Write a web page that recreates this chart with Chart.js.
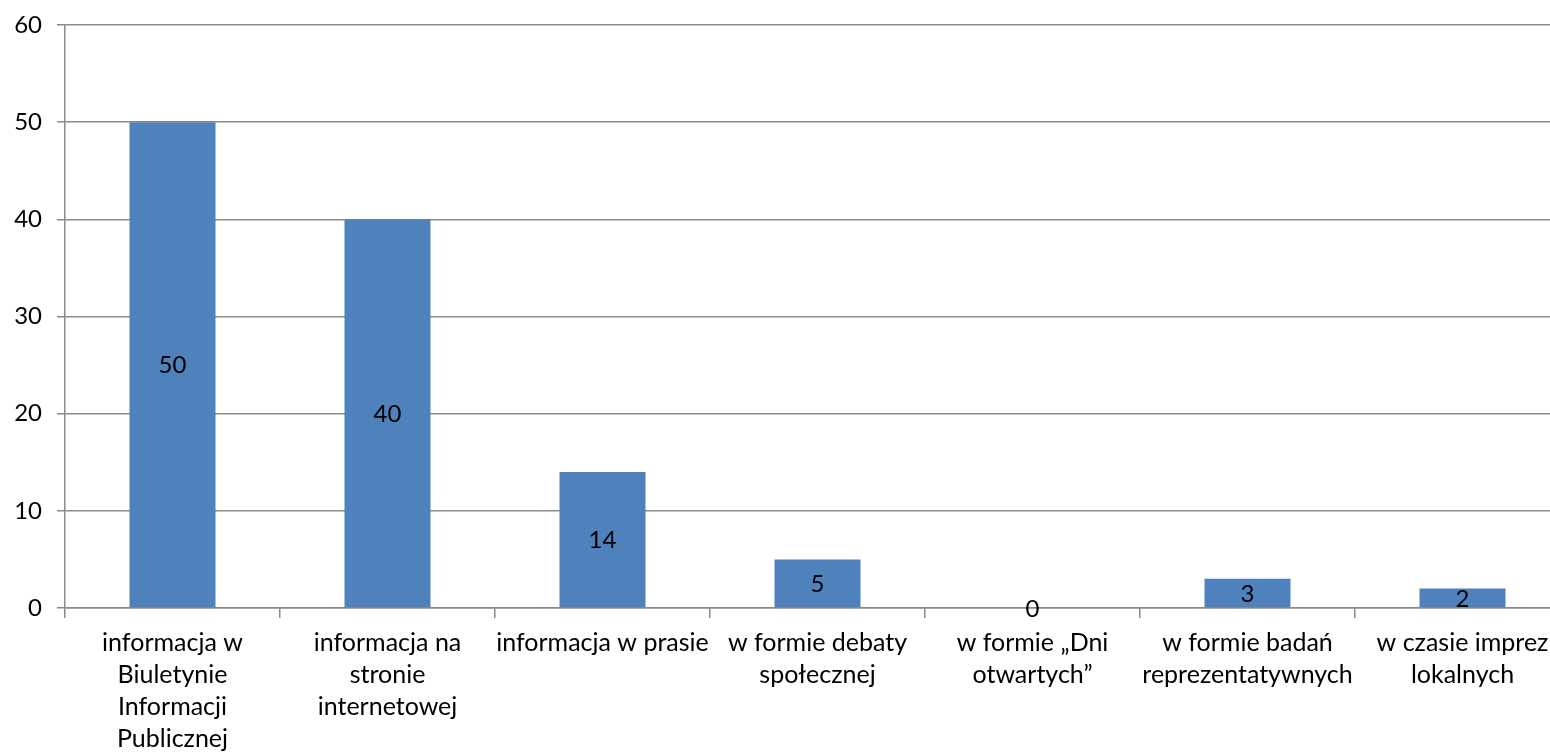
<!DOCTYPE html>
<html>
<head>
<meta charset="utf-8">
<script src="https://cdn.jsdelivr.net/npm/chart.js@4/dist/chart.umd.min.js"></script>
<style>
  html, body { margin: 0; padding: 0; background: #ffffff; overflow: hidden; }
  #wrap { width: 1572px; height: 752px; }
</style>
</head>
<body>
<div id="wrap"><canvas id="c" width="1572" height="752"></canvas></div>
<script>
const categories = [
  ["informacja w", "Biuletynie", "Informacji", "Publicznej"],
  ["informacja na", "stronie", "internetowej"],
  ["informacja w prasie"],
  ["w formie debaty", "społecznej"],
  ["w formie \u201eDni", "otwartych\u201d"],
  ["w formie badań", "reprezentatywnych"],
  ["w czasie imprez", "lokalnych"]
];
const values = [50, 40, 14, 5, 0, 3, 2];
const yTicks = [0, 10, 20, 30, 40, 50, 60];

const FONT = "Lato, 'Open Sans', sans-serif";
const GRID = "#8a8a8a";

const valueLabels = {
  id: "valueLabels",
  afterDatasetsDraw(chart) {
    const ctx = chart.ctx;
    const meta = chart.getDatasetMeta(0);
    ctx.save();
    ctx.font = "24px " + FONT;
    ctx.fillStyle = "#000000";
    ctx.textAlign = "center";
    ctx.textBaseline = "middle";
    meta.data.forEach((bar, i) => {
      const v = chart.data.datasets[0].data[i];
      const yMid = (bar.y + bar.base) / 2;
      ctx.fillText(String(v), bar.x, yMid + 1);
    });
    ctx.restore();
  }
};

new Chart(document.getElementById("c"), {
  type: "bar",
  data: {
    labels: categories,
    datasets: [{
      data: values,
      backgroundColor: "#4F81BD",
      borderWidth: 0,
      categoryPercentage: 1.0,
      barPercentage: 0.4
    }]
  },
  options: {
    responsive: false,
    animation: false,
    devicePixelRatio: 1,
    layout: { padding: { top: 25, right: 2, left: 0, bottom: 0 } },
    plugins: { legend: { display: false }, tooltip: { enabled: false } },
    scales: {
      x: {
        offset: true,
        grid: {
          offset: true,
          drawOnChartArea: false,
          drawTicks: true,
          tickLength: 10,
          color: GRID,
          lineWidth: 1.5
        },
        border: { color: GRID, width: 1.5 },
        ticks: {
          color: "#000000",
          font: { family: FONT, size: 25, lineHeight: 1.28 },
          padding: 9,
          maxRotation: 0,
          autoSkip: false
        },
        afterFit(scale) { scale.height = 144; scale.paddingLeft = 0; scale.paddingRight = 0; }
      },
      y: {
        min: 0,
        max: 60,
        afterBuildTicks(scale) { scale.ticks = yTicks.map(v => ({ value: v })); },
        grid: {
          color: GRID,
          lineWidth: 1.5,
          tickLength: 8
        },
        border: { color: GRID, width: 1.5 },
        ticks: {
          color: "#000000",
          font: { family: FONT, size: 24 },
          padding: 15
        },
        afterFit(scale) { scale.width = 65; scale.paddingTop = 0; scale.paddingBottom = 0; }
      }
    }
  },
  plugins: [valueLabels]
});
</script>
</body>
</html>
